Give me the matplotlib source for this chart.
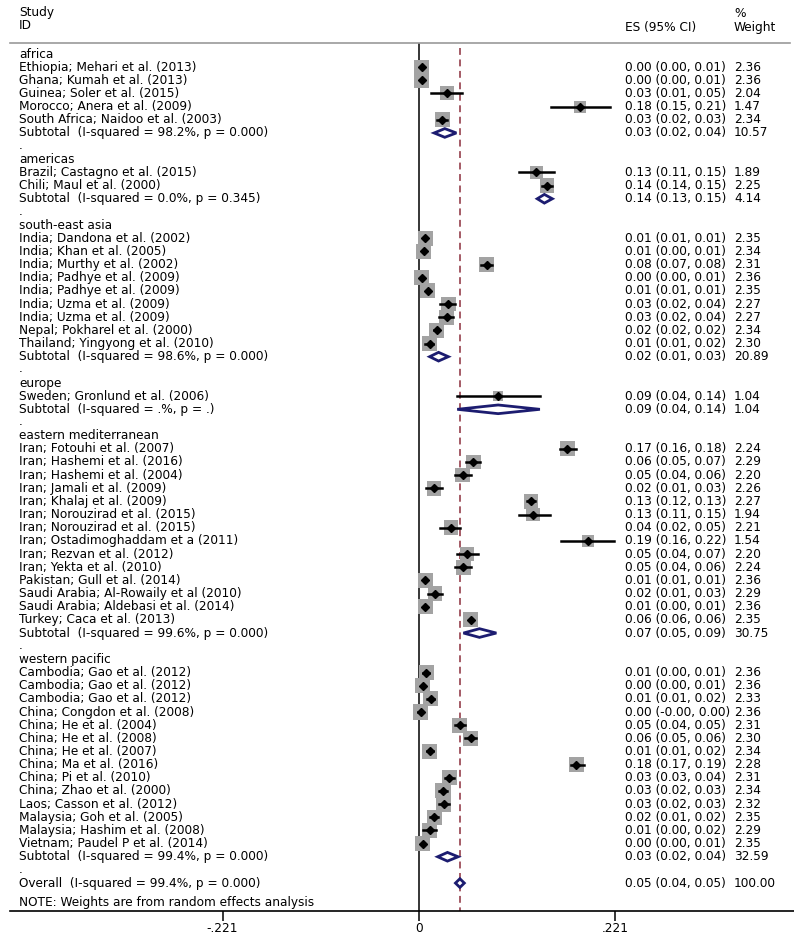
import matplotlib.pyplot as plt
from matplotlib.patches import Polygon


# regions (subgroup headers) and subtotal heterogeneity
groups = ["africa", "americas", "south-east asia", "europe",
          "eastern mediterranean", "western pacific"]
sub_i2 = ["98.2%, p = 0.000", "0.0%, p = 0.345", "98.6%, p = 0.000",
          ".%, p = .", "99.6%, p = 0.000", "99.4%, p = 0.000"]
sub_es = [0.029, 0.141, 0.022, 0.089, 0.068, 0.032]
sub_lo = [0.017, 0.133, 0.012, 0.043, 0.050, 0.021]
sub_hi = [0.042, 0.150, 0.033, 0.136, 0.087, 0.044]
sub_w = [10.57, 4.14, 20.89, 1.04, 30.75, 32.59]

# individual studies
study_group = [0] * 5 + [1] * 2 + [2] * 9 + [3] * 1 + [4] * 14 + [5] * 14
studies = [
    "Ethiopia; Mehari et al. (2013)",
    "Ghana; Kumah et al. (2013)",
    "Guinea; Soler et al. (2015)",
    "Morocco; Anera et al. (2009)",
    "South Africa; Naidoo et al. (2003)",
    "Brazil; Castagno et al. (2015)",
    "Chili; Maul et al. (2000)",
    "India; Dandona et al. (2002)",
    "India; Khan et al. (2005)",
    "India; Murthy et al. (2002)",
    "India; Padhye et al. (2009)",
    "India; Padhye et al. (2009)",
    "India; Uzma et al. (2009)",
    "India; Uzma et al. (2009)",
    "Nepal; Pokharel et al. (2000)",
    "Thailand; Yingyong et al. (2010)",
    "Sweden; Gronlund et al. (2006)",
    "Iran; Fotouhi et al. (2007)",
    "Iran; Hashemi et al. (2016)",
    "Iran; Hashemi et al. (2004)",
    "Iran; Jamali et al. (2009)",
    "Iran; Khalaj et al. (2009)",
    "Iran; Norouzirad et al. (2015)",
    "Iran; Norouzirad et al. (2015)",
    "Iran; Ostadimoghaddam et a (2011)",
    "Iran; Rezvan et al. (2012)",
    "Iran; Yekta et al. (2010)",
    "Pakistan; Gull et al. (2014)",
    "Saudi Arabia; Al-Rowaily et al (2010)",
    "Saudi Arabia; Aldebasi et al. (2014)",
    "Turkey; Caca et al. (2013)",
    "Cambodia; Gao et al. (2012)",
    "Cambodia; Gao et al. (2012)",
    "Cambodia; Gao et al. (2012)",
    "China; Congdon et al. (2008)",
    "China; He et al. (2004)",
    "China; He et al. (2008)",
    "China; He et al. (2007)",
    "China; Ma et al. (2016)",
    "China; Pi et al. (2010)",
    "China; Zhao et al. (2000)",
    "Laos; Casson et al. (2012)",
    "Malaysia; Goh et al. (2005)",
    "Malaysia; Hashim et al. (2008)",
    "Vietnam; Paudel P et al. (2014)",
]
es = [0.003, 0.003, 0.031, 0.181, 0.026,
      0.132, 0.144,
      0.007, 0.0055, 0.076, 0.003, 0.010, 0.033, 0.031, 0.020, 0.012,
      0.089,
      0.167, 0.061, 0.049, 0.017, 0.126, 0.128, 0.036, 0.190, 0.054, 0.050,
      0.007, 0.018, 0.007, 0.058,
      0.008, 0.004, 0.013, 0.002, 0.046, 0.058, 0.012, 0.177, 0.034, 0.027,
      0.028, 0.017, 0.012, 0.004]
lo = [0.001, 0.001, 0.013, 0.149, 0.020,
      0.112, 0.138,
      0.006, 0.003, 0.070, 0.001, 0.008, 0.024, 0.022, 0.017, 0.007,
      0.043,
      0.159, 0.053, 0.040, 0.008, 0.121, 0.112, 0.024, 0.160, 0.043, 0.041,
      0.006, 0.010, 0.004, 0.056,
      0.004, 0.002, 0.009, -0.001, 0.041, 0.052, 0.009, 0.171, 0.029, 0.023,
      0.022, 0.012, 0.004, 0.002]
hi = [0.006, 0.006, 0.048, 0.215, 0.032,
      0.152, 0.150,
      0.009, 0.008, 0.082, 0.006, 0.012, 0.041, 0.038, 0.023, 0.016,
      0.136,
      0.177, 0.069, 0.058, 0.026, 0.131, 0.147, 0.046, 0.219, 0.066, 0.058,
      0.008, 0.026, 0.009, 0.061,
      0.011, 0.006, 0.017, 0.004, 0.052, 0.064, 0.016, 0.186, 0.039, 0.031,
      0.034, 0.021, 0.019, 0.006]
weight = [2.36, 2.36, 2.04, 1.47, 2.34,
          1.89, 2.25,
          2.35, 2.34, 2.31, 2.36, 2.35, 2.27, 2.27, 2.34, 2.30,
          1.04,
          2.24, 2.29, 2.20, 2.26, 2.27, 1.94, 2.21, 1.54, 2.20, 2.24,
          2.36, 2.29, 2.36, 2.35,
          2.36, 2.36, 2.33, 2.36, 2.31, 2.30, 2.34, 2.28, 2.31, 2.34,
          2.32, 2.35, 2.29, 2.35]

overall_es, overall_lo, overall_hi, overall_w = 0.046, 0.041, 0.051, 100.00
overall_i2 = "99.4%, p = 0.000"
xticks = [-0.221, 0, 0.221]
xtick_labels = ["-.221", "0", ".221"]

FONT = "DejaVu Sans"
FS = 8.7
DIAMOND = "#1c1c70"
BOX = "#a3a3a3"

# pixel mapping of the reference: x=0 at 419px, 889 px per unit,
# first row at 54px, 13.16 px per row
X0, XS = 419, 889
Y0, YS = 54, 13.16


def px_x(p):
    return (p - X0) / XS


def px_y(p):
    return (p - Y0) / YS


def fmt_ci(e, l, h):
    return f"{e:.2f} ({l:.2f}, {h:.2f})"


def draw_diamond(ax, e, l, h, y):
    pts = [(l, y), (e, y - 0.33), (h, y), (e, y + 0.33)]
    ax.add_patch(Polygon(pts, closed=True, facecolor="white",
                         edgecolor=DIAMOND, linewidth=2.0, zorder=5))


def main():
    plt.rcParams["font.family"] = [FONT]
    fig = plt.figure(figsize=(7.94, 9.42), dpi=100)

    bottom = (942 - 911) / 942
    top = (942 - 43) / 942
    ax = fig.add_axes([0, bottom, 1, top - bottom])
    x_right = px_x(794)
    ax.set_xlim(px_x(0), x_right)
    y_top, y_bot = px_y(43), px_y(911)
    ax.set_ylim(y_bot, y_top)

    x_txt, x_es, x_w = px_x(19), px_x(625), px_x(734)
    txt = dict(fontsize=FS, va="center", ha="left", clip_on=False)

    # headers
    ax.text(x_txt, px_y(12), "Study", **txt)
    ax.text(x_txt, px_y(25), "ID", **txt)
    ax.text(x_es, px_y(27), "ES (95% CI)", **txt)
    ax.text(x_w, px_y(13), "%", **txt)
    ax.text(x_w, px_y(27), "Weight", **txt)
    ax.plot([px_x(10), px_x(790)], [y_top, y_top],
            color="#9a9a9a", lw=1.2, clip_on=False)

    row = 0
    for g, name in enumerate(groups):
        ax.text(x_txt, row, name, **txt)
        row += 1
        for i, s in enumerate(studies):
            if study_group[i] != g:
                continue
            ax.text(x_txt, row, s, **txt)
            ax.text(x_es, row, fmt_ci(es[i], lo[i], hi[i]), **txt)
            ax.text(x_w, row, f"{weight[i]:.2f}", **txt)
            # box area proportional to weight
            ax.scatter(es[i], row, s=50 * weight[i], marker="s", color=BOX,
                       edgecolors="none", zorder=2)
            ax.plot([lo[i], hi[i]], [row, row], color="black", lw=1.8, zorder=3)
            ax.plot(es[i], row, marker="D", ms=3.6, color="black", zorder=4)
            row += 1
        ax.text(x_txt, row, f"Subtotal  (I-squared = {sub_i2[g]})", **txt)
        ax.text(x_es, row, fmt_ci(sub_es[g], sub_lo[g], sub_hi[g]), **txt)
        ax.text(x_w, row, f"{sub_w[g]:.2f}", **txt)
        draw_diamond(ax, sub_es[g], sub_lo[g], sub_hi[g], row)
        row += 1
        ax.text(x_txt, row + 0.2, ".", fontsize=FS, va="baseline", ha="left")
        row += 1

    ax.text(x_txt, row, f"Overall  (I-squared = {overall_i2})", **txt)
    ax.text(x_es, row, fmt_ci(overall_es, overall_lo, overall_hi), **txt)
    ax.text(x_w, row, f"{overall_w:.2f}", **txt)
    draw_diamond(ax, overall_es, overall_lo, overall_hi, row)
    ax.text(x_txt, row + 1.5, "NOTE: Weights are from random effects analysis", **txt)

    # reference lines
    ax.plot([0, 0], [y_top, y_bot], color="black", lw=1.1, zorder=1)
    ax.plot([overall_es, overall_es], [y_top + 0.4, y_bot], color="#8c2d3c",
            lw=1.1, dashes=(4.5, 3), zorder=1)

    for sp in ["top", "left", "right"]:
        ax.spines[sp].set_visible(False)
    ax.spines["bottom"].set_bounds(px_x(10), x_right)
    ax.spines["bottom"].set_linewidth(1.2)
    ax.set_yticks([])
    ax.set_xticks(xticks)
    ax.set_xticklabels(xtick_labels, fontsize=FS)
    ax.tick_params(axis="x", direction="out", length=7, width=1.1, pad=1)

    fig.savefig("out.png", dpi=100)
    plt.close(fig)


if __name__ == "__main__":
    main()
